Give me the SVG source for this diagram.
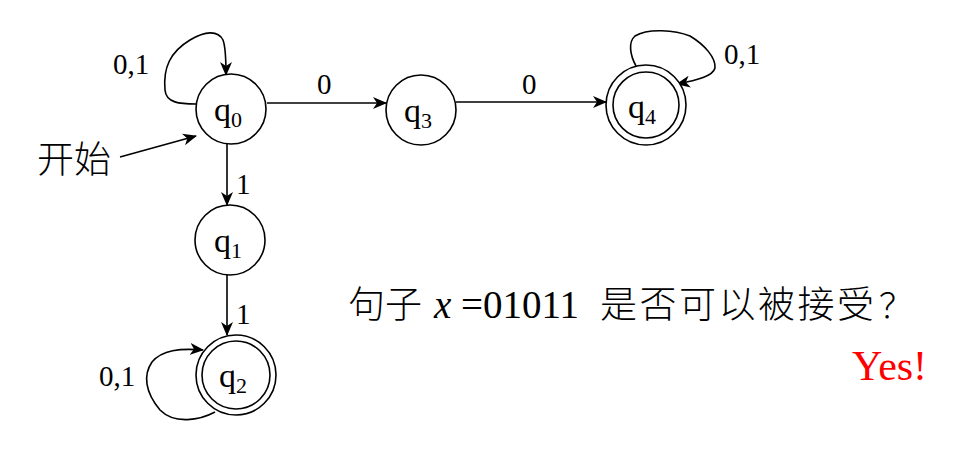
<svg xmlns="http://www.w3.org/2000/svg" width="976" height="457" viewBox="0 0 976 457">
<defs>
<marker id="ah" markerWidth="14" markerHeight="12" refX="13" refY="6" orient="auto" markerUnits="userSpaceOnUse">
<path d="M0,0 L14,6 L0,12 L4,6 Z" fill="#000"/>
</marker>
<style>
.st{fill:#fff;stroke:#000;stroke-width:1.6}
.ln{fill:none;stroke:#000;stroke-width:1.6}
.t{font-family:"Liberation Serif",serif;fill:#000}
.cjk{font-family:"Noto Sans CJK SC",sans-serif;fill:#000;font-weight:300}
.q{font-size:34px}
.s{font-size:22px}
.lb{font-size:29px}
</style>
</defs>
<rect width="976" height="457" fill="#fff"/>
<g id="edges">
<path class="ln" d="M267,103 L386,103" marker-end="url(#ah)"/>
<text class="t lb" x="317" y="94">0</text>
<path class="ln" d="M456,102 L606,102" marker-end="url(#ah)"/>
<text class="t lb" x="522" y="94">0</text>
<path class="ln" d="M120,157 L196,136" marker-end="url(#ah)"/>
<path class="ln" d="M227,144 L227,205" marker-end="url(#ah)"/>
<text class="t lb" x="236" y="194">1</text>
<path class="ln" d="M227,275 L227,335" marker-end="url(#ah)"/>
<text class="t lb" x="236" y="324">1</text>
<path class="ln" d="M196,104 C180,104 166,103 165,90 C163,68 170,52 190,40 C205,31 218,30 223,40 C226,48 226,60 226,75" marker-end="url(#ah)"/>
<text class="t lb" x="113" y="74">0,1</text>
<path class="ln" d="M215,412 C200,420 175,425 160,410 C145,392 143,375 152,362 C162,350 180,348 203,350" marker-end="url(#ah)"/>
<text class="t lb" x="99" y="386">0,1</text>
<path class="ln" d="M636,66 C630,55 628,42 635,36 C648,28 675,30 690,36 C705,45 716,58 715,68 C713,76 698,80 677,84" marker-end="url(#ah)"/>
<text class="t lb" x="724" y="64">0,1</text>
</g>
<g id="q0"><circle class="st" cx="231" cy="109" r="35"/><text class="t q" x="214" y="121">q<tspan class="s" dy="6">0</tspan></text></g>
<g id="q3"><circle class="st" cx="421" cy="110" r="35"/><text class="t q" x="404" y="122">q<tspan class="s" dy="6">3</tspan></text></g>
<g id="q4"><circle class="st" cx="646" cy="105" r="40"/><circle class="ln" cx="646" cy="105" r="33"/><text class="t q" x="628" y="118">q<tspan class="s" dy="6">4</tspan></text></g>
<g id="q1"><circle class="st" cx="230" cy="240" r="35"/><text class="t q" x="214" y="252">q<tspan class="s" dy="6">1</tspan></text></g>
<g id="q2"><circle class="st" cx="236" cy="375" r="40"/><circle class="ln" cx="236" cy="375" r="34"/><text class="t q" x="219" y="387">q<tspan class="s" dy="6">2</tspan></text></g>
<g id="start"><text class="cjk" x="37" y="173" font-size="37">开始</text></g>
<g id="question">
<text class="cjk" x="348" y="318" font-size="37" textLength="74" lengthAdjust="spacing">句子</text>
<text class="t" x="434" y="318" font-size="39" font-style="italic">x</text>
<text class="t" x="461" y="318" font-size="39">=01011</text>
<text class="cjk" x="600" y="318" font-size="37" textLength="274" lengthAdjust="spacing">是否可以被接受</text>
<text class="cjk" x="879" y="318" font-size="34">？</text>
</g>
<text class="t" x="852" y="380" font-size="42" style="fill:#f00">Yes!</text>
</svg>
